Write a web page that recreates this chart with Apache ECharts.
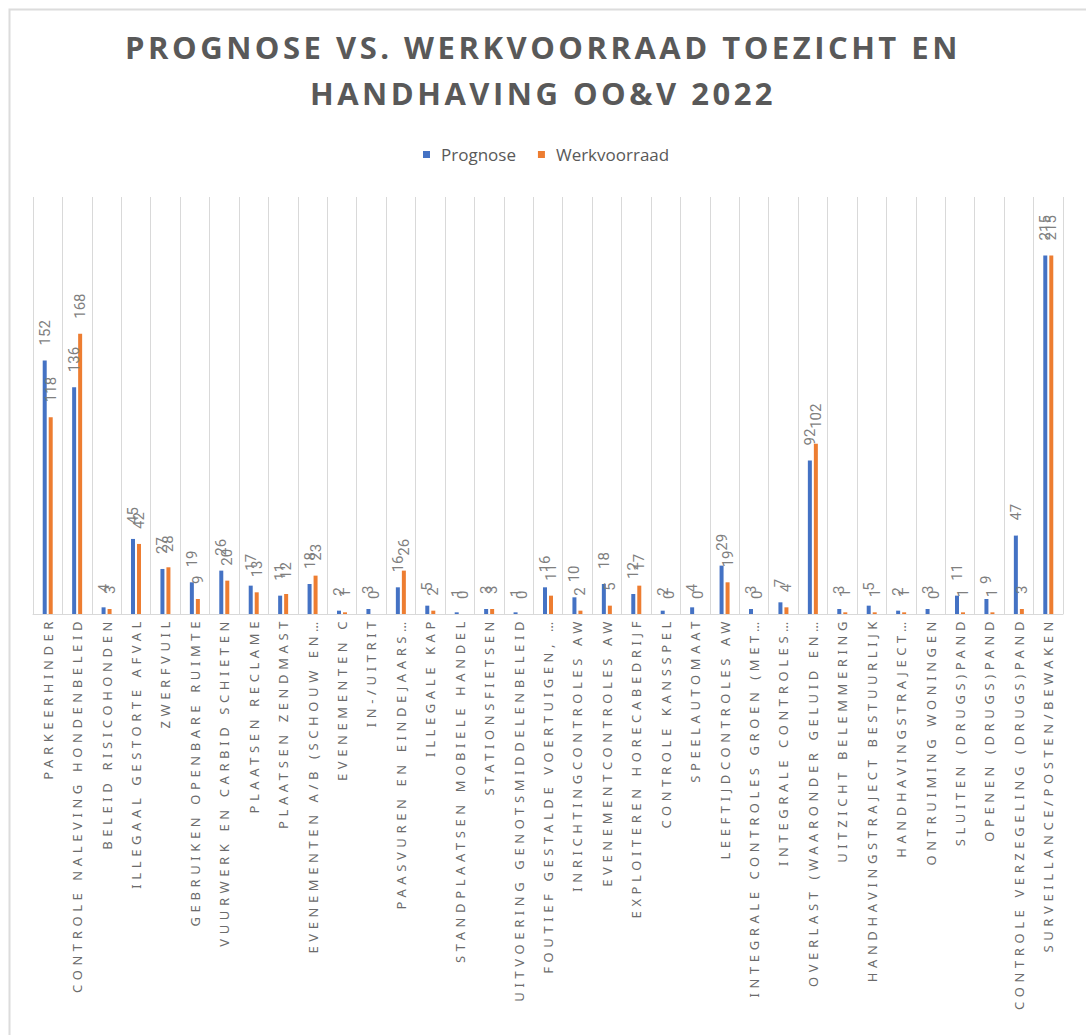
<!DOCTYPE html>
<html>
<head>
<meta charset="utf-8">
<script src="https://cdn.jsdelivr.net/npm/echarts@6/dist/echarts.min.js"></script>
<style>
  html, body { margin: 0; padding: 0; background: #fff; }
  #echart { width: 1086px; height: 1035px; }
  /* Excel-style expanded letter spacing for title and category labels */
  #echart svg text[style*="Noto Sans"] { letter-spacing: 4.6px; }
  #echart svg text[style*="Open Sans"][style*="bold"] { letter-spacing: 3.5px; }
</style>
</head>
<body>
<div id="echart"></div>
<script>
let categories = [
	'PARKEERHINDER',
	'CONTROLE NALEVING HONDENBELEID',
	'BELEID RISICOHONDEN',
	'ILLEGAAL GESTORTE AFVAL',
	'ZWERFVUIL',
	'GEBRUIKEN OPENBARE RUIMTE',
	'VUURWERK EN CARBID SCHIETEN',
	'PLAATSEN RECLAME',
	'PLAATSEN ZENDMAST',
	'EVENEMENTEN A/B (SCHOUW EN…',
	'EVENEMENTEN C',
	'IN-/UITRIT',
	'PAASVUREN EN EINDEJAARS…',
	'ILLEGALE KAP',
	'STANDPLAATSEN MOBIELE HANDEL',
	'STATIONSFIETSEN',
	'UITVOERING GENOTSMIDDELENBELEID',
	'FOUTIEF GESTALDE VOERTUIGEN, …',
	'INRICHTINGCONTROLES AW',
	'EVENEMENTCONTROLES AW',
	'EXPLOITEREN HORECABEDRIJF',
	'CONTROLE KANSSPEL',
	'SPEELAUTOMAAT',
	'LEEFTIJDCONTROLES AW',
	'INTEGRALE CONTROLES GROEN (MET…',
	'INTEGRALE CONTROLES…',
	'OVERLAST (WAARONDER GELUID EN…',
	'UITZICHT BELEMMERING',
	'HANDHAVINGSTRAJECT BESTUURLIJK',
	'HANDHAVINGSTRAJECT…',
	'ONTRUIMING WONINGEN',
	'SLUITEN (DRUGS)PAND',
	'OPENEN (DRUGS)PAND',
	'CONTROLE VERZEGELING (DRUGS)PAND',
	'SURVEILLANCE/POSTEN/BEWAKEN'
];

let prognose = [152, 136, 4, 45, 27, 19, 26, 17, 11, 18, 2, 3, 16, 5, 1, 3, 1, 16, 10, 18, 12, 2, 4, 29, 3, 7, 92, 3, 5, 2, 3, 11, 9, 47, 215];
let werkvoorraad = [118, 168, 3, 42, 28, 9, 20, 13, 12, 23, 1, 0, 26, 2, 0, 3, 0, 11, 2, 5, 17, 0, 0, 19, 0, 4, 102, 1, 1, 1, 0, 1, 1, 3, 215];

let seriesNames = ['Prognose', 'Werkvoorraad'];
let titleLines = ['PROGNOSE VS. WERKVOORRAAD TOEZICHT EN', 'HANDHAVING OO&V 2022'];

function drawChart() {
	let dom = document.getElementById("echart");
	let myChart = echarts.init(dom, null, { renderer: 'svg' });

	let barLabel = {
		show: true,
		position: 'top',
		rotate: 90,
		align: 'left',
		verticalAlign: 'middle',
		distance: 15,
		color: '#7f7f7f',
		fontFamily: 'Roboto',
		fontSize: 15
	};

	// title drawn as centred graphic texts so the letter spacing stays centred
	let titleText = titleLines.map((line, i) => ({
		type: 'text',
		x: 543,
		y: 47 + i * 46,
		silent: true,
		style: {
			text: line,
			textAlign: 'center',
			textVerticalAlign: 'middle',
			fill: '#595959',
			fontFamily: 'Open Sans',
			fontWeight: 'bold',
			fontSize: 31
		}
	}));

	let option = {
		backgroundColor: '#fff',
		animation: false,
		legend: {
			data: seriesNames,
			top: 141,
			left: 418,
			itemWidth: 7,
			itemHeight: 7,
			itemGap: 22,
			icon: 'rect',
			textStyle: {
				color: '#595959',
				fontFamily: 'Open Sans',
				fontSize: 17,
				padding: [0, 0, 0, 6]
			}
		},
		graphic: [{
			type: 'rect',
			left: 7,
			top: 7,
			shape: { width: 1200, height: 1200 },
			style: { fill: 'none', stroke: '#dcdcdc', lineWidth: 2 },
			silent: true
		}].concat(titleText),
		grid: {
			left: 33,
			right: 23,
			top: 197,
			bottom: 421
		},
		xAxis: {
			type: 'category',
			data: categories,
			axisTick: { show: false },
			axisLine: { lineStyle: { color: '#d9d9d9' } },
			splitLine: { show: true, interval: 0, lineStyle: { color: '#d9d9d9' } },
			axisLabel: {
				interval: 0,
				rotate: 90,
				margin: 3,
				color: '#6b6b6b',
				fontFamily: 'Noto Sans',
				fontSize: 13
			}
		},
		yAxis: {
			type: 'value',
			min: 0,
			max: 250,
			show: false,
			splitLine: { show: false }
		},
		series: [
			{
				name: seriesNames[0],
				type: 'bar',
				data: prognose,
				barWidth: 4,
				barGap: '50%',
				itemStyle: { color: '#4472C4' },
				label: barLabel
			},
			{
				name: seriesNames[1],
				type: 'bar',
				data: werkvoorraad,
				barWidth: 4,
				barGap: '50%',
				itemStyle: { color: '#ED7D31' },
				label: barLabel
			}
		]
	};

	myChart.setOption(option);
}

drawChart();
</script>
</body>
</html>
